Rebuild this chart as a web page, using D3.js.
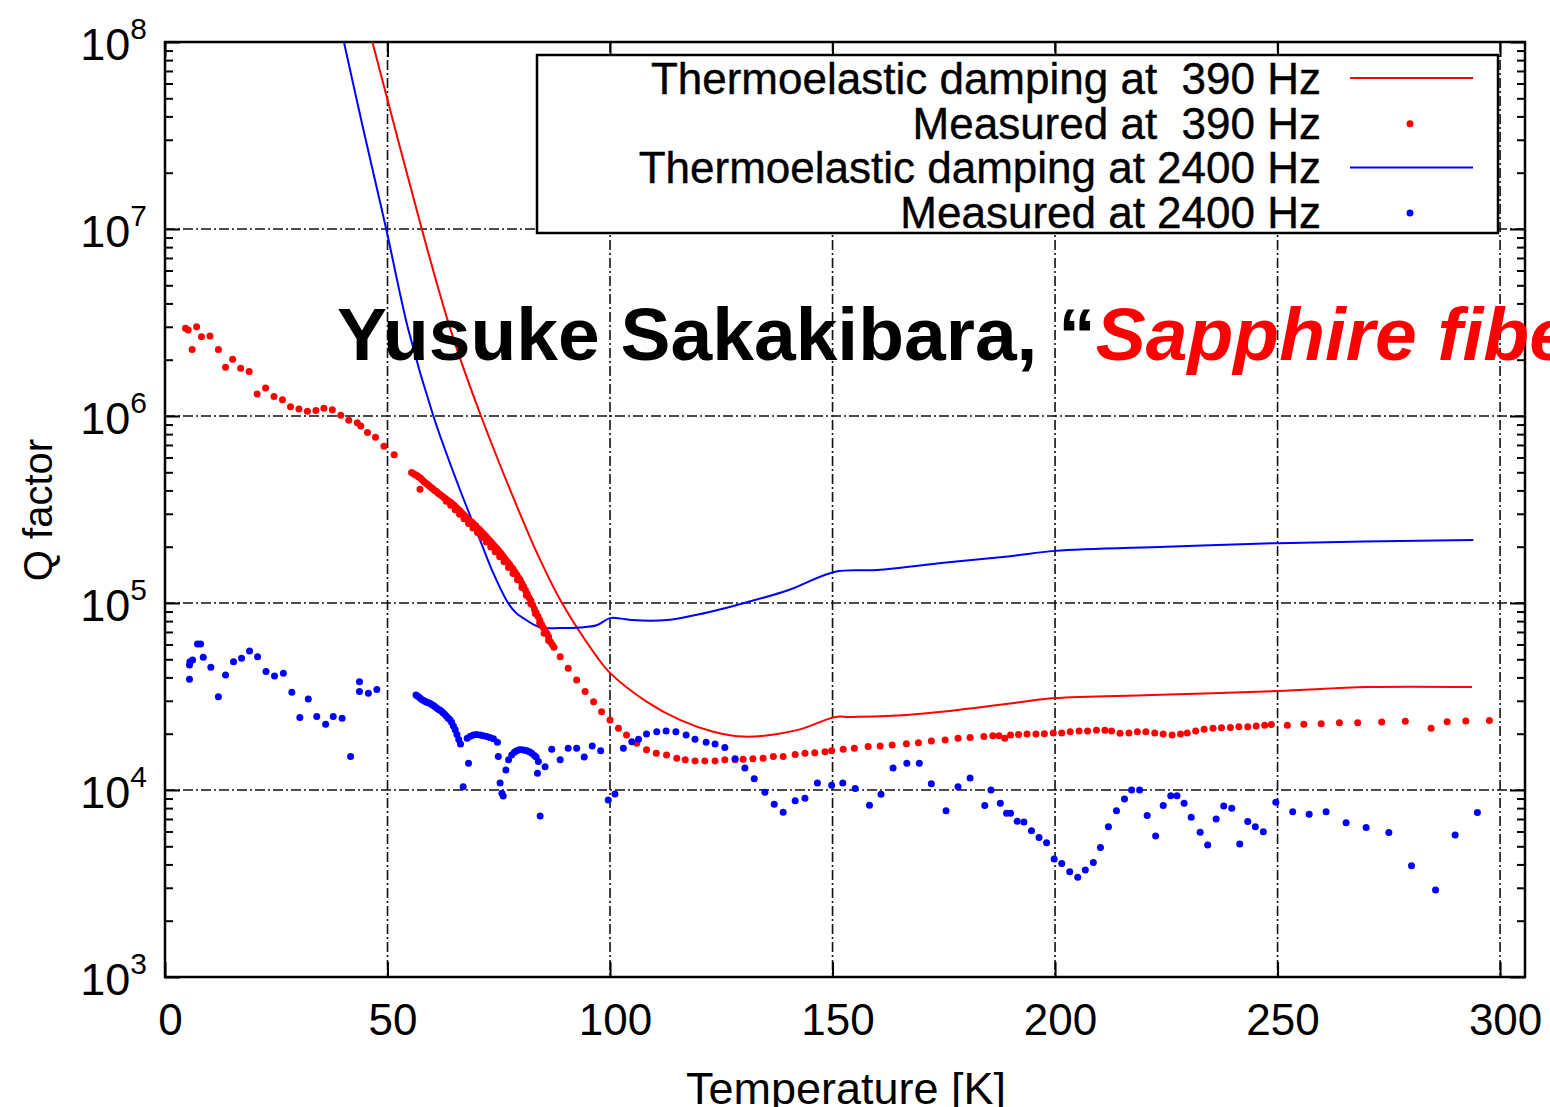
<!DOCTYPE html>
<html>
<head>
<meta charset="utf-8">
<script src="https://cdn.jsdelivr.net/npm/d3@7"></script>
<style>
  html, body { margin: 0; padding: 0; background: #fff; }
  svg { display: block; font-family: "Liberation Sans", Arial, sans-serif; }
</style>
</head>
<body>
<div id="chart"></div>
<script>
// ticks
const xTicks = [0, 50, 100, 150, 200, 250, 300];
const yMajor = [1e3, 1e4, 1e5, 1e6, 1e7, 1e8];
const yExp = ["3", "4", "5", "6", "7", "8"];

// legend
const legendLabels = [
  "Thermoelastic damping at  390 Hz",
  "Measured at  390 Hz",
  "Thermoelastic damping at 2400 Hz",
  "Measured at 2400 Hz"
];

// thermoelastic damping, 390 Hz  [T (K), Q]
const ted390 = [
  [46.6, 1e8], [57.7, 1e7], [64.2, 2.88e6], [71.0, 1e6], [81.3, 2.46e5], [84.3, 1.7e5],
  [89.2, 1e5], [97.1, 5.14e4], [100, 4.23e4], [108.2, 2.97e4], [115.7, 2.37e4], [123.2, 2.05e4],
  [130.0, 1.93e4], [142, 2.09e4], [150.6, 2.46e4], [153.9, 2.46e4], [165.6, 2.51e4],
  [178.2, 2.68e4], [190.8, 2.92e4], [200, 3.1e4], [221.8, 3.22e4], [250, 3.38e4],
  [270.3, 3.55e4], [293.7, 3.55e4]
];

// thermoelastic damping, 2400 Hz
const ted2400 = [
  [40.2, 1e8], [44.6, 3.38e7], [49.7, 1e7], [54.7, 2.88e6], [60.3, 1e6], [66.3, 4.02e5],
  [70.8, 2.17e5], [73.8, 1.44e5], [77.1, 1e5], [79.0, 8.8e4], [80.5, 8.3e4], [84.3, 7.4e4],
  [88.8, 7.35e4], [93.3, 7.4e4], [97.0, 7.6e4], [100, 8.3e4], [102.5, 8.25e4], [105, 8.1e4],
  [112.8, 8.1e4], [120, 8.7e4], [130.8, 1.01e5], [140, 1.17e5], [150.6, 1.47e5], [160, 1.5e5],
  [175, 1.64e5], [190, 1.78e5], [200, 1.9e5], [225, 2.0e5], [250, 2.09e5], [294, 2.17e5]
];

// measured, 390 Hz
const meas390 = [
  [5.2, 2.88e6], [4.6, 2.95e6], [6.1, 2.27e6], [7.1, 3.0e6], [8.2, 2.65e6], [10.1, 2.68e6],
  [12.0, 2.27e6], [13.6, 1.82e6], [15.2, 2.01e6], [17.0, 1.80e6], [18.9, 1.73e6], [20.7, 1.31e6],
  [22.6, 1.41e6], [24.5, 1.27e6], [26.4, 1.22e6], [28.2, 1.12e6], [30.1, 1.09e6], [32.0, 1.06e6],
  [33.9, 1.07e6], [35.7, 1.10e6], [37.6, 1.08e6], [39.5, 1.01e6], [41.3, 9.5e5], [43.2, 9.2e5],
  [44.0, 8.85e5], [45.5, 8.15e5], [47.3, 7.7e5], [49.2, 6.9e5], [51.5, 6.2e5],
  [55.4, 4.98e5], [55.8, 4.92e5], [56.2, 4.85e5], [56.6, 4.80e5], [57.0, 4.72e5], [57.3, 4.06e5],
  [57.4, 4.66e5], [57.8, 4.55e5], [58.2, 4.45e5], [58.6, 4.38e5], [59.0, 4.30e5], [59.4, 4.22e5],
  [59.8, 4.14e5], [60.2, 4.08e5], [60.6, 4.00e5], [61.0, 3.95e5], [61.4, 3.86e5], [61.8, 3.80e5],
  [62.2, 3.74e5], [62.6, 3.68e5], [63.0, 3.62e5], [63.4, 3.55e5], [63.8, 3.50e5], [64.2, 3.45e5],
  [64.6, 3.38e5], [65.0, 3.32e5], [65.4, 3.25e5], [65.8, 3.18e5], [66.2, 3.12e5], [66.6, 3.05e5],
  [67.0, 2.98e5], [67.4, 2.92e5], [67.8, 2.85e5], [68.2, 2.80e5], [68.6, 2.74e5], [69.0, 2.70e5],
  [69.4, 2.64e5], [69.8, 2.60e5], [70.2, 2.52e5], [70.6, 2.48e5], [71.0, 2.42e5], [71.4, 2.36e5],
  [71.8, 2.31e5], [72.2, 2.26e5], [72.6, 2.20e5], [73.0, 2.15e5], [73.4, 2.10e5], [73.8, 2.05e5],
  [74.2, 2.00e5], [74.6, 1.95e5], [75.0, 1.90e5], [75.4, 1.85e5], [75.8, 1.80e5], [76.2, 1.75e5],
  [76.6, 1.70e5], [77.0, 1.65e5], [77.4, 1.61e5], [77.8, 1.56e5], [78.2, 1.52e5], [78.6, 1.47e5],
  [79.0, 1.42e5], [79.4, 1.37e5], [79.8, 1.33e5], [80.2, 1.27e5], [80.6, 1.22e5], [81.0, 1.17e5],
  [81.4, 1.12e5], [81.8, 1.07e5], [82.2, 1.03e5], [82.6, 9.8e4], [83.0, 9.3e4], [83.4, 8.9e4],
  [83.8, 8.5e4], [84.2, 8.1e4], [84.6, 7.7e4], [85.0, 7.4e4], [85.4, 7.1e4], [85.8, 6.9e4],
  [86.2, 6.6e4], [86.6, 6.2e4], [87.0, 6.0e4], [87.4, 5.8e4],
  [63.2, 3.50e5], [64.2, 3.33e5], [65.2, 3.15e5], [66.2, 2.98e5], [67.2, 2.82e5], [68.2, 2.66e5],
  [69.2, 2.52e5], [70.2, 2.38e5], [71.2, 2.24e5], [72.2, 2.12e5], [73.2, 1.99e5], [74.2, 1.88e5],
  [75.2, 1.77e5], [76.2, 1.66e5], [77.2, 1.55e5], [78.2, 1.44e5], [79.2, 1.33e5], [80.2, 1.21e5],
  [81.2, 1.10e5], [82.2, 9.9e4], [83.2, 8.8e4], [84.2, 7.8e4], [85.2, 6.9e4], [86.2, 6.3e4],
  [88.8, 5.16e4], [90.6, 4.48e4], [92.5, 3.87e4], [94.4, 3.36e4], [96.3, 2.96e4], [98.1, 2.62e4],
  [100, 2.37e4], [101.9, 2.14e4], [103.7, 1.97e4], [106, 1.78e4], [108.2, 1.64e4], [110.4, 1.57e4],
  [112.7, 1.54e4], [115, 1.48e4], [116.9, 1.45e4], [119.1, 1.43e4], [121.3, 1.43e4], [123.6, 1.43e4],
  [125.8, 1.45e4], [128.1, 1.45e4], [129.9, 1.46e4], [132.1, 1.47e4], [134.4, 1.48e4], [136.7, 1.51e4],
  [138.9, 1.51e4], [141.6, 1.55e4], [143.8, 1.57e4], [146, 1.58e4], [148.3, 1.60e4], [149.8, 1.62e4],
  [152.4, 1.65e4], [154.9, 1.67e4], [158, 1.71e4], [160.7, 1.72e4], [163.4, 1.74e4], [166.6, 1.77e4],
  [169.3, 1.79e4], [172.2, 1.83e4], [175.3, 1.85e4], [178.2, 1.89e4], [180.9, 1.91e4], [184.0, 1.93e4],
  [186.0, 1.95e4], [187.4, 1.95e4], [188.7, 1.89e4], [190.0, 1.97e4], [191.8, 1.98e4], [193.7, 1.99e4],
  [195.7, 1.99e4], [197.6, 2.00e4], [199.6, 2.02e4], [201.5, 2.02e4], [203.4, 2.05e4], [205.4, 2.07e4],
  [207.3, 2.07e4], [209.3, 2.09e4], [211.2, 2.09e4], [212.7, 2.07e4], [214.6, 2.01e4], [216.6, 2.02e4],
  [218.5, 2.05e4], [220.4, 2.05e4], [222.4, 2.02e4], [224.3, 1.99e4], [226.3, 1.97e4], [228.2, 1.99e4],
  [229.7, 2.02e4], [231.6, 2.07e4], [233.5, 2.11e4], [235.5, 2.14e4], [237.4, 2.15e4], [239.4, 2.16e4],
  [241.3, 2.18e4], [243.3, 2.18e4], [245.2, 2.20e4], [247.1, 2.22e4], [248.6, 2.24e4], [252.2, 2.22e4],
  [255.9, 2.25e4], [259.8, 2.26e4], [263.9, 2.29e4], [268.0, 2.29e4], [273.4, 2.31e4], [278.7, 2.33e4],
  [284.5, 2.14e4], [288.1, 2.32e4], [292.3, 2.34e4], [297.6, 2.35e4]
];

// measured, 2400 Hz
const meas2400 = [
  [5.5, 3.91e4], [5.5, 4.66e4], [5.6, 4.85e4], [6.2, 4.95e4], [7.3, 6.04e4], [8.0, 6.04e4],
  [8.6, 5.13e4], [10.3, 4.53e4], [12.0, 3.15e4], [13.6, 4.12e4], [15.4, 4.85e4], [17.2, 5.06e4],
  [19.0, 5.53e4], [20.8, 5.16e4], [22.7, 4.30e4], [24.6, 4.07e4], [26.6, 4.21e4], [28.5, 3.33e4],
  [30.3, 2.44e4], [32.2, 3.07e4], [34.1, 2.47e4], [36.1, 2.25e4], [37.8, 2.47e4], [39.8, 2.42e4],
  [41.7, 1.51e4], [43.7, 3.79e4], [43.7, 3.36e4], [45.7, 3.29e4], [47.6, 3.45e4],
  [56.4, 3.22e4], [56.8, 3.17e4], [57.2, 3.12e4], [57.6, 3.06e4], [58.0, 3.02e4], [58.4, 2.98e4],
  [58.8, 2.95e4], [59.2, 2.93e4], [59.6, 2.90e4], [60.0, 2.86e4], [60.4, 2.82e4], [60.8, 2.77e4],
  [61.2, 2.73e4], [61.6, 2.69e4], [62.0, 2.65e4], [62.4, 2.60e4], [62.8, 2.55e4], [63.2, 2.49e4],
  [63.6, 2.43e4], [64.0, 2.38e4], [64.4, 2.30e4], [64.8, 2.20e4], [65.2, 2.10e4], [65.6, 1.98e4],
  [66.0, 1.86e4], [66.4, 1.76e4], [67.0, 1.04e4], [68.2, 1.39e4], [67.9, 1.89e4], [68.6, 1.94e4],
  [69.3, 1.97e4], [70.0, 1.98e4], [70.8, 1.97e4], [71.5, 1.95e4], [72.3, 1.93e4], [73.0, 1.91e4],
  [73.8, 1.88e4], [74.7, 1.80e4], [74.9, 1.51e4], [75.3, 1.09e4], [75.7, 9.6e3], [76.0, 9.3e3],
  [76.6, 1.28e4], [77.2, 1.45e4], [77.9, 1.54e4], [78.5, 1.59e4], [79.0, 1.62e4], [79.6, 1.64e4],
  [80.2, 1.64e4], [80.8, 1.63e4], [81.3, 1.62e4], [81.9, 1.60e4], [82.4, 1.57e4], [83.0, 1.53e4],
  [83.4, 1.50e4], [83.9, 1.42e4], [83.7, 1.23e4], [84.3, 7.26e3], [85.4, 1.33e4], [86.9, 1.65e4],
  [88.8, 1.45e4], [90.6, 1.67e4], [92.5, 1.67e4], [94.2, 1.50e4], [96.0, 1.72e4], [97.9, 1.62e4],
  [99.6, 8.85e3], [101.1, 9.53e3], [103, 1.67e4], [104.9, 1.81e4], [106.4, 1.87e4], [108.2, 1.99e4],
  [110.5, 2.05e4], [112.6, 2.07e4], [114.8, 2.05e4], [117.1, 1.97e4], [119.1, 1.87e4], [121.6, 1.80e4],
  [123.6, 1.76e4], [125.8, 1.69e4], [128.1, 1.47e4], [130.3, 1.31e4], [132.4, 1.15e4], [134.8, 9.73e3],
  [136.9, 8.38e3], [138.9, 7.6e3], [141.6, 8.77e3], [143.8, 9.04e3], [146.6, 1.09e4], [149.8, 1.06e4],
  [152.3, 1.09e4], [155.1, 1.02e4], [158.3, 8.3e3], [160.9, 9.5e3], [163.6, 1.31e4], [166.7, 1.39e4],
  [169.5, 1.39e4], [172.2, 1.08e4], [175.5, 7.75e3], [178.2, 1.04e4], [180.9, 1.16e4], [184.2, 8.25e3],
  [185.6, 1.0e4], [187.7, 8.5e3], [189.1, 7.5e3], [190.0, 7.5e3], [191.5, 6.8e3], [193.0, 6.75e3],
  [194.7, 6.06e3], [196.4, 5.58e3], [198.1, 5.23e3], [199.8, 4.28e3], [201.5, 4.05e3], [203.3, 3.66e3],
  [205.1, 3.41e3], [206.8, 3.73e3], [208.6, 4.1e3], [210.2, 4.92e3], [212.0, 6.37e3], [213.8, 7.75e3],
  [215.6, 8.95e3], [217.2, 1.0e4], [219.0, 1.0e4], [220.7, 7.3e3], [222.6, 5.67e3], [224.3, 8.25e3],
  [226.0, 9.33e3], [227.4, 9.33e3], [229.0, 8.5e3], [230.6, 7.15e3], [232.6, 5.94e3], [234.3, 5.08e3],
  [236.2, 7.0e3], [237.9, 8.2e3], [239.7, 7.98e3], [241.5, 5.14e3], [243.3, 6.78e3], [245.0, 6.37e3],
  [246.8, 5.98e3], [249.6, 8.6e3], [253.4, 7.66e3], [257.1, 7.41e3], [260.9, 7.66e3], [265.4, 6.68e3],
  [269.9, 6.31e3], [275.0, 5.92e3], [280.1, 3.94e3], [285.5, 2.92e3], [289.9, 5.74e3], [294.9, 7.57e3]
];

const width = 1550;
const height = 1107;
const plotL = 165, plotR = 1525, plotT = 42, plotB = 977;

const x = d3.scaleLinear().domain([0, 305.6]).range([plotL, plotR]);
const y = d3.scaleLog().domain([1e3, 1e8]).range([plotB, plotT]);

const svg = d3.select("#chart")
  .append("svg")
  .attr("width", width)
  .attr("height", height);

svg.append("rect").attr("width", width).attr("height", height).attr("fill", "#fff");

svg.append("defs").append("clipPath").attr("id", "plotClip")
  .append("rect")
  .attr("x", plotL).attr("y", plotT)
  .attr("width", plotR - plotL).attr("height", plotB - plotT);

// grid (dash-dot, like gnuplot)
const grid = svg.append("g").attr("stroke", "#111").attr("stroke-width", 1.6)
  .attr("stroke-dasharray", "10,3,2,3");
grid.selectAll("line.gx")
  .data(xTicks.filter(d => d > 0))
  .enter().append("line")
  .attr("x1", d => x(d)).attr("x2", d => x(d))
  .attr("y1", plotT).attr("y2", plotB);
grid.selectAll("line.gy")
  .data(yMajor.filter(d => d > 1e3 && d < 1e8))
  .enter().append("line")
  .attr("y1", d => y(d)).attr("y2", d => y(d))
  .attr("x1", plotL).attr("x2", plotR);

// ticks
const yMinor = [];
[1e3, 1e4, 1e5, 1e6, 1e7].forEach(p => [2, 3, 4, 5, 6, 7, 8, 9].forEach(m => yMinor.push(p * m)));

function styleAxis(g) {
  g.select(".domain").remove();
  g.selectAll(".tick line").attr("stroke", "#000").attr("stroke-width", 2);
}

svg.append("g").attr("transform", `translate(${plotL},0)`)
  .call(d3.axisLeft(y).tickValues(yMajor).tickSize(-15).tickFormat("")).call(styleAxis);
svg.append("g").attr("transform", `translate(${plotL},0)`)
  .call(d3.axisLeft(y).tickValues(yMinor).tickSize(-8).tickFormat("")).call(styleAxis);
svg.append("g").attr("transform", `translate(${plotR},0)`)
  .call(d3.axisRight(y).tickValues(yMajor).tickSize(-15).tickFormat("")).call(styleAxis);
svg.append("g").attr("transform", `translate(${plotR},0)`)
  .call(d3.axisRight(y).tickValues(yMinor).tickSize(-8).tickFormat("")).call(styleAxis);
svg.append("g").attr("transform", `translate(0,${plotT})`)
  .call(d3.axisTop(x).tickValues(xTicks).tickSize(-15).tickFormat("")).call(styleAxis);

const xAxis = svg.append("g").attr("transform", `translate(0,${plotB})`)
  .call(d3.axisBottom(x).tickValues(xTicks).tickSize(-15).tickPadding(27).tickFormat(d3.format("d")))
  .call(styleAxis);
xAxis.selectAll(".tick text")
  .attr("font-size", 44)
  .attr("font-family", "'Liberation Sans', Arial, sans-serif")
  .attr("fill", "#000")
  .attr("dx", 5);

// y tick labels 10^n
const yLab = svg.append("g").attr("font-size", 45).attr("fill", "#000");
yMajor.forEach((v, i) => {
  const t = yLab.append("text")
    .attr("x", 147)
    .attr("y", y(v) + 18)
    .attr("text-anchor", "end");
  t.append("tspan").text("10");
  t.append("tspan").attr("font-size", 30).attr("dy", -21).text(yExp[i]);
});

// frame
svg.append("rect")
  .attr("x", plotL).attr("y", plotT)
  .attr("width", plotR - plotL).attr("height", plotB - plotT)
  .attr("fill", "none").attr("stroke", "#000").attr("stroke-width", 2.5);

// axis titles
svg.append("text")
  .attr("transform", `translate(52,510) rotate(-90)`)
  .attr("text-anchor", "middle")
  .attr("font-size", 40)
  .text("Q factor");

svg.append("text")
  .attr("x", 846).attr("y", 1104)
  .attr("text-anchor", "middle")
  .attr("font-size", 45)
  .text("Temperature [K]");

// data
const plot = svg.append("g").attr("clip-path", "url(#plotClip)");
const line = d3.line().x(d => x(d[0])).y(d => y(d[1])).curve(d3.curveCatmullRom.alpha(0.5));

plot.append("path").datum(ted390)
  .attr("d", line).attr("fill", "none").attr("stroke", "#ff0000").attr("stroke-width", 2);
plot.append("path").datum(ted2400)
  .attr("d", line).attr("fill", "none").attr("stroke", "#0000ff").attr("stroke-width", 2);

plot.selectAll("circle.r")
  .data(meas390)
  .enter().append("circle")
  .attr("class", "r")
  .attr("cx", d => x(d[0])).attr("cy", d => y(d[1]))
  .attr("r", 3.5).attr("fill", "#ff0000");

plot.selectAll("circle.b")
  .data(meas2400)
  .enter().append("circle")
  .attr("class", "b")
  .attr("cx", d => x(d[0])).attr("cy", d => y(d[1]))
  .attr("r", 3.5).attr("fill", "#0000ff");

// legend
const legend = svg.append("g");
legend.append("rect")
  .attr("x", 537).attr("y", 55).attr("width", 961).attr("height", 178)
  .attr("fill", "#fff").attr("stroke", "#000").attr("stroke-width", 2.5);

const legendColors = ["#ff0000", "#ff0000", "#0000ff", "#0000ff"];
legendLabels.forEach((lab, i) => {
  const base = 94 + i * 44.7;
  legend.append("text")
    .attr("x", 1321).attr("y", base)
    .attr("text-anchor", "end")
    .attr("font-size", 44)
    .attr("stroke", "#000").attr("stroke-width", 0.4)
    .style("white-space", "pre")
    .text(lab);
  if (i % 2 === 0) {
    legend.append("line")
      .attr("x1", 1350).attr("x2", 1473)
      .attr("y1", base - 16).attr("y2", base - 16)
      .attr("stroke", legendColors[i]).attr("stroke-width", 2);
  } else {
    legend.append("circle")
      .attr("cx", 1410).attr("cy", base - 15)
      .attr("r", 3.5).attr("fill", legendColors[i]);
  }
});

// overlaid citation text
const cite = svg.append("text")
  .attr("x", 337).attr("y", 360)
  .attr("font-size", 75)
  .attr("font-weight", "bold");
cite.append("tspan").attr("fill", "#000").text("Yusuke Sakakibara, \u201C");
cite.append("tspan").attr("fill", "#ff0000").attr("font-style", "italic").text("Sapphire fiber");
</script>
</body>
</html>
